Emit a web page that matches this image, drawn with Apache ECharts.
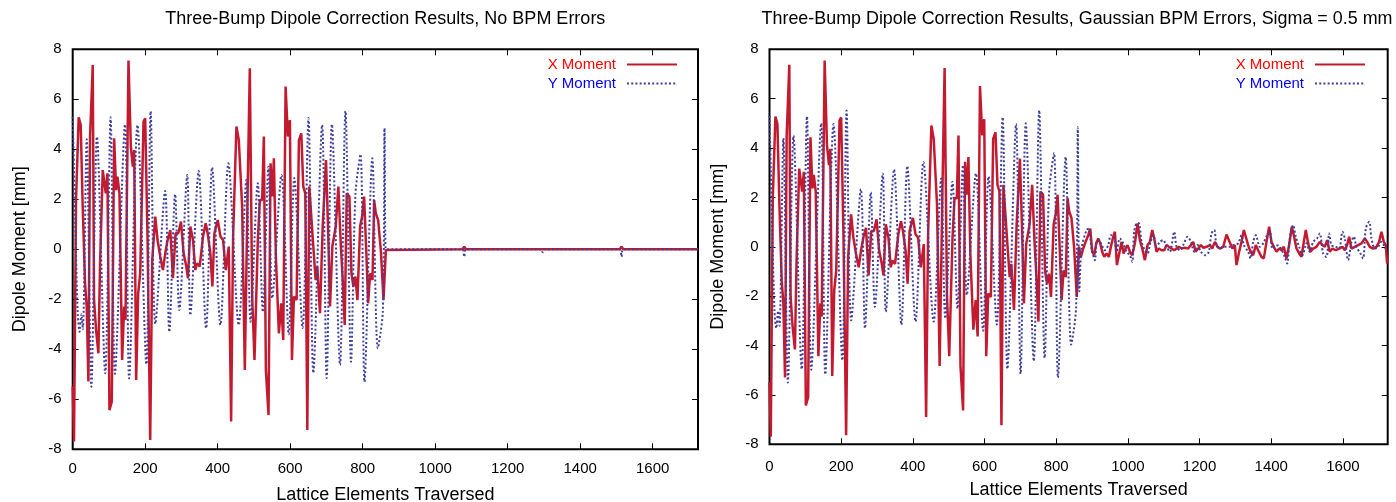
<!DOCTYPE html>
<html>
<head>
<meta charset="utf-8">
<script src="https://cdn.jsdelivr.net/npm/echarts@6/dist/echarts.min.js"></script>
<style>
html,body{margin:0;padding:0;background:#fff;}
#c{width:1396px;height:502px;}
</style>
</head>
<body>
<div id="c"></div>
<script>
// ---- data (x = lattice elements traversed, y = dipole moment [mm]) ----
const titles = [
  'Three-Bump Dipole Correction Results, No BPM Errors',
  'Three-Bump Dipole Correction Results, Gaussian BPM Errors, Sigma = 0.5 mm'
];
const seriesNames = ['X Moment', 'Y Moment'];
const xTickStep = 200, xMax = 1725, yMin = -8, yMax = 8, yTickStep = 2;

// shared first section (uncorrected region), both panels
const redMain = [[0,-5.49],[3.6,-7.69],[9.2,1.97],[16.5,5.28],[22.1,4.97],[27.6,1.71],[34.1,-1.36],[38.7,-2.29],[43.3,-5.29],[47.9,4.51],[53.4,4.51],[55.3,7.37],[58.9,-2.03],[64.5,-3.23],[70.9,-4.16],[75.5,-0.56],[82.9,3.17],[87.5,3.17],[91.2,2.24],[95.8,3.04],[101.4,-6.43],[107.8,-6.09],[114.3,4.44],[119.8,2.37],[123.5,2.91],[129,2.24],[136.4,-4.43],[141.9,-2.29],[145.6,-2.83],[153.9,7.55],[160.4,4.11],[165.9,3.31],[169.6,3.97],[175.1,-5.23],[180.6,-1.76],[186.2,-0.96],[195.4,5.11],[200,5.24],[206.5,0.37],[213.8,-7.63],[219.4,-0.43],[227.7,1.31],[234.1,0.37],[241.5,-0.29],[248.9,-0.83],[255.3,-0.16],[261.8,0.37],[269.2,0.77],[276.5,-1.16],[283.9,0.64],[291.3,0.64],[298.7,1.11],[306,-0.16],[313.4,-0.69],[318,-1.16],[324.5,0.91],[331.9,0.37],[338.3,-0.83],[342.9,-0.56],[350.3,-0.69],[359.5,0.51],[366.9,1.04],[372.4,0.64],[379.8,-0.16],[385.3,-1.49],[390.9,0.64],[400.1,1.17],[407.5,0.51],[414.8,0.37],[422.2,-0.83],[430.5,0.11],[437,-6.89],[442.5,0.51],[451.7,4.91],[458.2,4.37],[467.4,1.71],[474.8,-4.83],[483.1,2.77],[488.6,7.24],[495.1,-1.89],[501.5,-4.43],[510.7,0.37],[516.3,1.97],[522.7,1.97],[527.3,4.51],[532.9,-4.83],[540.2,-6.63],[545.8,3.44],[551.3,2.11],[555,3.64],[560.5,-0.29],[568.8,-3.36],[575.3,-2.16],[580.8,-3.63],[587.3,6.51],[593.7,4.51],[599.2,5.17],[604.8,-4.43],[610.3,-1.89],[617.7,-2.03],[624.1,4.37],[630.6,4.64],[636.1,2.51],[641.6,2.24],[647.2,-7.23],[652.7,2.51],[658.2,2.51],[663.8,0.11],[670.2,-1.23],[674.8,-0.69],[682.2,-2.56],[689.6,0.91],[698.8,3.57],[704.3,0.91],[709.9,-2.29],[716.3,0.11],[725.6,0.91],[732.9,2.51],[739.4,0.24],[744.9,-1.23],[750.4,-3.03],[756,2.24],[763.4,2.11],[768.9,-0.96],[774.4,-1.49],[780,-1.09],[785.5,-2.03],[792.9,0.91],[798.4,1.31],[803.9,2.11],[810.4,-0.29],[815,-2.16],[820.5,-0.96],[827,-1.23],[831.6,1.97],[836.2,1.44],[842.6,1.17],[850,-0.03],[857.4,-2.03]];
const blueMain = [[0,5.3],[8,0.5],[14,-2.6],[19,-3.3],[24,-2.6],[28,-3.2],[38.7,4.4],[51.4,-5.5],[67,4.5],[89.8,-4.96],[104.5,5.28],[116.6,-4.98],[144.2,5.0],[155.7,-5.17],[178.7,4.97],[203.2,-4.6],[215,5.52],[228,-2.98],[255,2.33],[266.5,-3.3],[282.5,2.2],[294,-2.43],[316,2.97],[324.5,-2.63],[347.5,3.13],[368,-3.16],[384.5,3.27],[407.5,-3.03],[429.5,3.44],[458,-3.03],[479,2.77],[490.5,-2.9],[510.5,2.64],[524.5,-2.5],[540,3.3],[550.5,-1.95],[576,2.97],[596,-3.4],[611.3,2.85],[634.2,-3.15],[650.5,5.25],[663.8,-4.95],[688,4.97],[700.6,-5.15],[715,5.0],[737.4,-4.63],[752.5,5.53],[767.8,-4.5],[780,2.2],[794,3.8],[804.9,-5.3],[826.5,3.64],[841.6,-3.96],[855.5,-2.5],[860.2,4.84]];

// left panel tail: corrected to zero (no BPM errors)
const redLeftTail = [[863.9,-0.03],[868.5,0],[1075,0],[1080,0.1],[1085,0],[1509,0],[1514,0.1],[1519,0],[1725,0]];
const blueLeftTail = [[863,0.04],[868,0],[1075,0],[1080,-0.3],[1085,0],[1292,0],[1297,-0.12],[1302,0],[1509,0],[1514,-0.3],[1519,0],[1725,0]];

// right panel tail: residual noise from BPM errors
const redRightTail = [[863.4,0],[868.9,-0.41],[875.4,-0.07],[882,0.2],[889.4,0.47],[895,0.74],[900.6,-0.2],[906.1,-0.34],[911.7,0.14],[917.3,0.34],[922.9,0.14],[928.4,-0.2],[934,-0.41],[940.5,-0.27],[947,-0.41],[952.6,0],[959.1,0.41],[963.8,0.61],[969.4,-0.74],[974.9,-0.34],[982.4,0.2],[987.9,-0.27],[993.5,-0.07],[999.1,0.07],[1005.6,-0.2],[1012.1,-0.34],[1019.6,0.14],[1027,0.95],[1033.5,0.27],[1040,-0.07],[1047.5,-0.54],[1054.9,0.07],[1061.4,0.2],[1067.9,0.68],[1073.5,0.34],[1080,-0.2],[1086.5,-0.07],[1094,-0.14],[1101.4,-0.14],[1107.9,0.07],[1114.4,0],[1121.8,-0.07],[1129.3,-0.14],[1135.8,-0.07],[1142.3,0],[1149.7,-0.07],[1159,-0.04],[1168.3,-0.07],[1175.8,0.07],[1182.3,0.2],[1188.8,-0.2],[1196.2,-0.07],[1203.7,0.07],[1211.1,-0.04],[1219.5,0],[1228.8,0.07],[1235.3,-0.07],[1242.7,0.2],[1250.2,0],[1256.7,-0.07],[1266,0],[1275.3,0.5],[1281.8,0.27],[1291.9,-0.07],[1298.4,0.07],[1303.1,-0.74],[1310.5,-0.2],[1317,0.2],[1323.6,0.68],[1329.1,0.74],[1335.6,0.07],[1342.1,-0.2],[1349.6,-0.34],[1357,0.07],[1363.5,-0.14],[1372.8,-0.41],[1379.3,-0.47],[1386.8,0.2],[1394.2,0.81],[1400.7,0.2],[1407.2,0],[1414.7,-0.2],[1422.1,-0.07],[1428.6,-0.14],[1435.1,0],[1442.6,-0.47],[1450,0.07],[1457.4,0.81],[1463,0.47],[1470.5,-0.07],[1477.9,-0.27],[1484.4,-0.41],[1490.9,0.2],[1496.5,0.68],[1503,0.14],[1509.5,-0.2],[1517,-0.07],[1526.2,0],[1535.5,0.2],[1543,0.07],[1549.5,0],[1556,0.27],[1563.4,-0.2],[1570.9,-0.07],[1580.2,-0.14],[1589.5,-0.07],[1598.8,0],[1605.3,-0.14],[1611.8,0.07],[1617.4,0.41],[1623.9,-0.07],[1633.2,0],[1642.5,0.07],[1651.8,0.14],[1661.1,0.34],[1667.6,0.2],[1675,0],[1684.3,-0.07],[1693.6,0],[1701,0.2],[1707.6,0.61],[1714.1,0.2],[1719.6,0.07],[1723.4,-0.68]];
const blueRightTail = [[864.5,-1.8],[870.8,-0.07],[884.7,0.68],[891.3,0.74],[898.7,-0.07],[908,-0.54],[912.6,0.2],[919.1,0.27],[926.6,0.07],[935.9,-0.14],[945.2,0.07],[952.6,0.47],[961.9,0.41],[968.4,-0.2],[977.7,0.34],[987,0.14],[996.3,-0.2],[1005.6,-0.34],[1012.1,-0.61],[1017.7,0.61],[1025.1,0.95],[1030.7,0.95],[1038.2,0.2],[1047.5,-0.14],[1054.9,-0.27],[1062.3,0.14],[1070.7,0.47],[1080,0],[1089.3,0.2],[1098.6,0.27],[1107.9,0],[1117.2,-0.2],[1129.3,0.61],[1135.8,0],[1145.1,-0.14],[1154.4,0.07],[1166.5,0.41],[1175.8,0.2],[1185.1,-0.2],[1194.4,0.07],[1203.7,-0.2],[1216.7,-0.34],[1226,-0.2],[1233.4,0.54],[1240.9,0.68],[1247.4,0.07],[1256.7,-0.07],[1266,0],[1275.3,0],[1284.5,0],[1293.8,0.07],[1307.7,0.14],[1317,0.47],[1323.6,0.07],[1335.6,-0.2],[1342.1,-0.47],[1349.6,0.2],[1357,0.47],[1368.2,0],[1377.5,0.14],[1388.6,0.47],[1396.1,0.61],[1403.5,-0.07],[1412.8,0.07],[1424,0],[1437.9,-0.41],[1444.4,-0.68],[1451.9,0.34],[1461.2,0.88],[1468.6,0.41],[1477.9,0],[1487.2,-0.34],[1498.4,0.14],[1507.7,-0.2],[1517,0.2],[1528.1,0.34],[1535.5,0.54],[1544.8,-0.27],[1554.1,-0.41],[1561.6,0.54],[1568.1,0.07],[1580.2,0],[1589.5,-0.07],[1598.8,0.61],[1605.3,0.34],[1614.6,-0.54],[1623.9,0.2],[1630.4,0.41],[1637.8,0],[1649,-0.27],[1656.4,-0.47],[1663.9,0.74],[1673.2,1.01],[1679.7,0.34],[1689,-0.07],[1698.3,0],[1707.6,0.2],[1716.8,0],[1723.4,-0.2]];

// ---- styling / layout ----
const FONT = 'Liberation Sans, Arial, Helvetica, sans-serif';
const RED = '#c41a30', BLUE = '#3f3f9c';
const grids = [
  {left: 72.7, top: 49.3, width: 625.3, height: 400},
  {left: 769.5, top: 49.3, width: 618.2, height: 395}
];
const xLabelMargin = [12, 15], xNameGap = [37, 37], yNameGap = [44, 42];

function axesFor(i) {
  const tick = {show: true, inside: true, length: 6, lineStyle: {color: '#000', width: 1}};
  const line = {show: false, onZero: false};
  const xa = {
    type: 'value', gridIndex: i, min: 0, max: xMax, interval: xTickStep,
    axisLine: line, axisTick: tick, splitLine: {show: false},
    axisLabel: {show: true, color: '#000', fontSize: 15, fontFamily: FONT, margin: xLabelMargin[i],
                showMaxLabel: false, formatter: v => String(v)},
    name: 'Lattice Elements Traversed', nameLocation: 'middle', nameGap: xNameGap[i],
    nameTextStyle: {color: '#000', fontSize: 18, fontFamily: FONT}
  };
  const xb = {
    type: 'value', gridIndex: i, position: 'top', min: 0, max: xMax, interval: xTickStep,
    axisLine: line, axisTick: tick, splitLine: {show: false}, axisLabel: {show: false}
  };
  const ya = {
    type: 'value', gridIndex: i, min: yMin, max: yMax, interval: yTickStep,
    axisLine: line, axisTick: tick, splitLine: {show: false},
    axisLabel: {show: true, color: '#000', fontSize: 15, fontFamily: FONT, margin: 11, formatter: v => String(v)},
    name: 'Dipole Moment [mm]', nameLocation: 'middle', nameGap: yNameGap[i], nameRotate: 90,
    nameTextStyle: {color: '#000', fontSize: 18, fontFamily: FONT}
  };
  const yb = {
    type: 'value', gridIndex: i, position: 'right', min: yMin, max: yMax, interval: yTickStep,
    axisLine: line, axisTick: tick, splitLine: {show: false}, axisLabel: {show: false}
  };
  return {x: [xa, xb], y: [ya, yb]};
}

const xAxes = [], yAxes = [];
[0, 1].forEach(i => { const a = axesFor(i); xAxes.push(...a.x); yAxes.push(...a.y); });

const panelData = [
  {red: redMain.concat(redLeftTail), blue: blueMain.concat(blueLeftTail)},
  {red: redMain.concat(redRightTail), blue: blueMain.concat(blueRightTail)}
];

const series = [];
panelData.forEach((p, i) => {
  series.push({
    name: seriesNames[0], type: 'line', xAxisIndex: i * 2, yAxisIndex: i * 2,
    data: p.red, showSymbol: false, symbol: 'none',
    lineStyle: {color: RED, width: 2.5}, itemStyle: {color: RED}, z: 2
  });
  series.push({
    name: seriesNames[1], type: 'line', xAxisIndex: i * 2, yAxisIndex: i * 2,
    data: p.blue, showSymbol: false, symbol: 'none', smooth: 0.3,
    lineStyle: {color: BLUE, width: 2, type: [2, 2.2]}, itemStyle: {color: BLUE}, z: 3
  });
});

const legendFor = (right) => ({
  orient: 'vertical', right: right, top: 57, padding: 0, itemGap: 4,
  itemWidth: 50, itemHeight: 14, align: 'right', selectedMode: false,
  itemStyle: {opacity: 0},
  textStyle: {fontSize: 15, fontFamily: FONT, padding: [0, 6, 0, 0]},
  data: [
    {name: seriesNames[0], textStyle: {color: '#ff0000'}},
    {name: seriesNames[1], textStyle: {color: '#0000ff'}}
  ]
});

const option = {
  animation: false,
  backgroundColor: '#fff',
  title: [
    {text: titles[0], left: 385.3, top: 10, padding: 0, textAlign: 'center',
     textStyle: {fontSize: 18, fontWeight: 'normal', color: '#000', fontFamily: FONT}},
    {text: titles[1], left: 1077, top: 10, padding: 0, textAlign: 'center',
     textStyle: {fontSize: 17.9, fontWeight: 'normal', color: '#000', fontFamily: FONT}}
  ],
  legend: [legendFor(718), legendFor(30)],
  grid: grids.map(g => Object.assign({show: true, borderColor: '#000', borderWidth: 2, backgroundColor: 'transparent',
                                       containLabel: false, outerBoundsMode: 'none'}, g)),
  xAxis: xAxes,
  yAxis: yAxes,
  series: series
};

const chart = echarts.init(document.getElementById('c'), null, {renderer: 'canvas'});
chart.setOption(option);
</script>
</body>
</html>
